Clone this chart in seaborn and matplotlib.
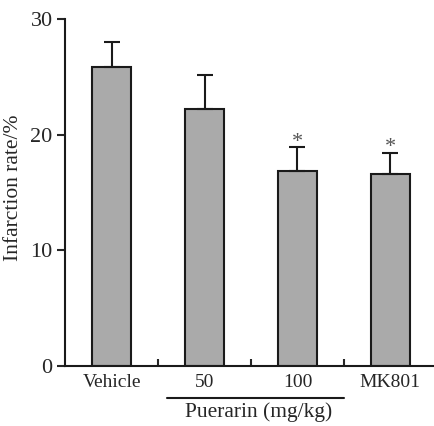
import matplotlib
matplotlib.use('Agg')
import matplotlib.pyplot as plt
import seaborn as sns
import pandas as pd

groups = ['Vehicle', '50', '100', 'MK801']
means = [25.9, 22.2, 16.85, 16.6]
errs = [2.1, 3.0, 2.05, 1.85]
marks = ['', '', '*', '*']

sns.set_style('ticks')
plt.rcParams['font.family'] = ['Liberation Serif', 'DejaVu Serif']

df = pd.DataFrame({'Group': groups, 'Rate': means})

fig = plt.figure(figsize=(4.34, 4.26), dpi=100)
ax = fig.add_axes([0.15, 0.141, 0.848, 0.814])

sns.barplot(data=df, x='Group', y='Rate', color='#aaaaaa', edgecolor='#1a1a1a',
            linewidth=1.5, width=0.42, saturation=1, ax=ax)
ax.errorbar(range(len(groups)), means, yerr=[[0] * len(errs), errs], fmt='none',
            ecolor='#1a1a1a', elinewidth=1.5, capsize=6, capthick=1.5)
for i, m in enumerate(marks):
    if m:
        ax.text(i, means[i] + errs[i] - 0.35, m, ha='center', va='bottom',
                fontsize=16, color='#555555')

ax.set_ylim(0, 30)
ax.set_xlim(-0.5, 3.46)
ax.set_yticks([0, 10, 20, 30])
ax.set_xticks([0.5, 1.5, 2.5], minor=True)
ax.tick_params(axis='x', which='major', length=0, labelsize=14, pad=6)
ax.tick_params(axis='x', which='minor', direction='in', length=5, width=1.5)
ax.tick_params(axis='y', length=6, width=1.5, labelsize=16, pad=3)
for s in ['top', 'right']:
    ax.spines[s].set_visible(False)
for s in ['left', 'bottom']:
    ax.spines[s].set_linewidth(1.5)
    ax.spines[s].set_color('#1a1a1a')
ax.set_xlabel('')
ax.set_ylabel('Infarction rate/%', fontsize=15.5, labelpad=6)
ax.yaxis.set_label_coords(-0.115, 0.514)

fig.add_artist(plt.Line2D([167 / 434, 344 / 434], [1 - 398 / 426, 1 - 398 / 426],
                          color='#1a1a1a', lw=1.5))
fig.text(259 / 434, 1 - 412 / 426, 'Puerarin (mg/kg)', ha='center', va='center', fontsize=15.5)

fig.savefig('out.png', dpi=100)
